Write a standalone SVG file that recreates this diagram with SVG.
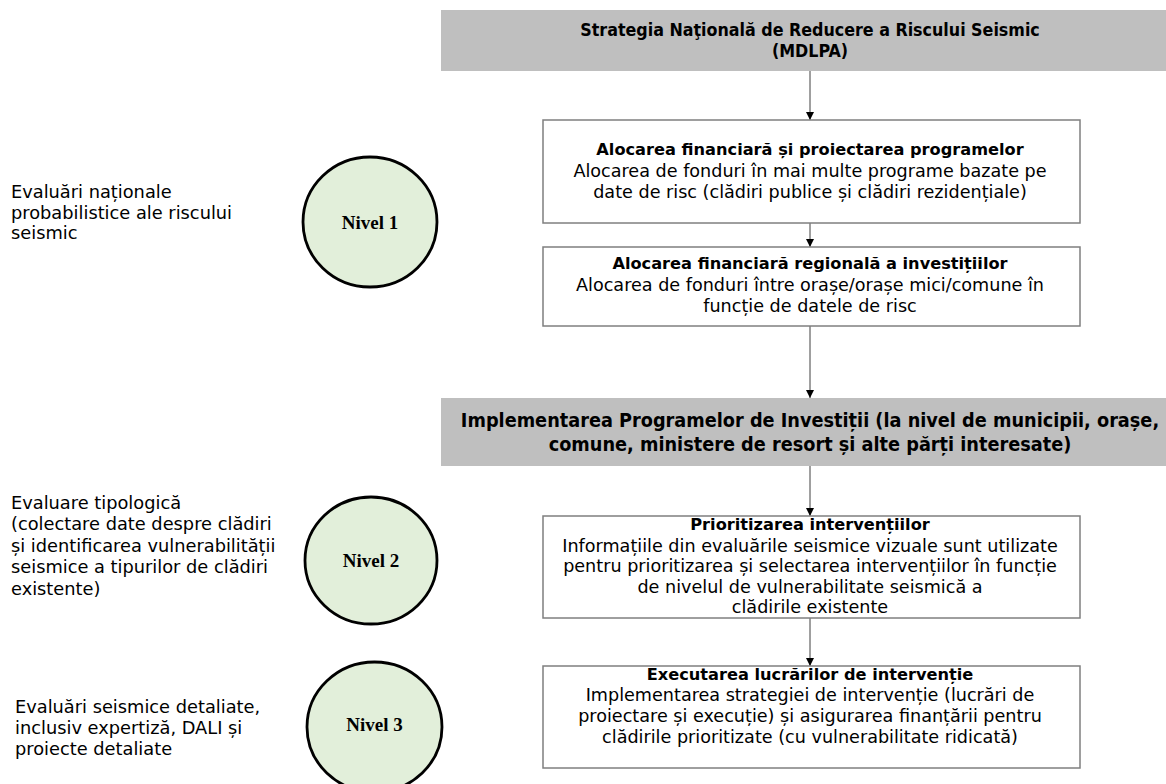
<svg xmlns="http://www.w3.org/2000/svg" width="1166" height="784" viewBox="0 0 1166 784">
  <style>
    .band { fill: #bfbfbf; }
    .box { fill: #ffffff; stroke: #7f7f7f; stroke-width: 1.5; }
    .lvl { fill: #e2efda; stroke: #000000; stroke-width: 2.8; }
    .head { font-family: "DejaVu Sans Condensed", "DejaVu Sans", sans-serif; font-weight: bold; fill: #000; text-anchor: middle; }
    .h1 { font-size: 17.7px; }
    .h2 { font-size: 19.7px; }
    .bt { font-family: "DejaVu Sans", sans-serif; font-weight: bold; font-size: 16.2px; fill: #000; text-anchor: middle; }
    .bd { font-family: "DejaVu Sans", sans-serif; font-size: 17.6px; fill: #000; text-anchor: middle; }
    .side { font-family: "DejaVu Sans", sans-serif; font-size: 17.8px; fill: #000; }
    .nv { font-family: "Liberation Serif", serif; font-weight: bold; font-size: 19px; fill: #000; text-anchor: middle; }
    .conn { stroke: #404040; stroke-width: 1; fill: none; marker-end: url(#ah); }
  </style>
  <defs>
    <marker id="ah" viewBox="0 0 10 10" refX="10" refY="5" markerWidth="8" markerHeight="8" markerUnits="userSpaceOnUse" orient="auto">
      <path d="M0,0 L10,5 L0,10 z" fill="#000"/>
    </marker>
  </defs>
  <rect width="1166" height="784" fill="#ffffff"/>

  <!-- vertical flow arrows between the stages -->
  <g id="connectors">
    <line class="conn" x1="810" y1="71" x2="810" y2="120"/>
    <line class="conn" x1="810" y1="223" x2="810" y2="247"/>
    <line class="conn" x1="810" y1="326" x2="810" y2="398"/>
    <line class="conn" x1="810" y1="466" x2="810" y2="516"/>
    <line class="conn" x1="810" y1="618" x2="810" y2="666"/>
  </g>

  <g id="strategie">
    <rect class="band" x="441" y="10" width="725" height="61"/>
    <text class="head h1" x="810" y="36">Strategia Naţională de Reducere a Riscului Seismic</text>
    <text class="head h1" x="810" y="57">(MDLPA)</text>
  </g>

  <g id="alocare-programe">
    <rect class="box" x="543" y="120" width="537" height="103"/>
    <text class="bt" x="810" y="155">Alocarea financiară și proiectarea programelor</text>
    <text class="bd" x="810" y="176.5">Alocarea de fonduri în mai multe programe bazate pe</text>
    <text class="bd" x="810" y="198">date de risc (clădiri publice și clădiri rezidențiale)</text>
  </g>

  <g id="alocare-regionala">
    <rect class="box" x="543" y="247" width="537" height="79"/>
    <text class="bt" x="810" y="269">Alocarea financiară regională a investițiilor</text>
    <text class="bd" x="810" y="290.5">Alocarea de fonduri între orașe/orașe mici/comune în</text>
    <text class="bd" x="810" y="312">funcție de datele de risc</text>
  </g>

  <g id="implementare">
    <rect class="band" x="441" y="398" width="725" height="68"/>
    <text class="head h2" x="810" y="427">Implementarea Programelor de Investiții (la nivel de municipii, orașe,</text>
    <text class="head h2" x="810" y="451">comune, ministere de resort și alte părți interesate)</text>
  </g>

  <g id="prioritizare">
    <rect class="box" x="543" y="516" width="537" height="102"/>
    <text class="bt" x="810" y="530">Prioritizarea intervențiilor</text>
    <text class="bd" x="810" y="551.5">Informațiile din evaluările seismice vizuale sunt utilizate</text>
    <text class="bd" x="810" y="572">pentru prioritizarea și selectarea intervențiilor în funcție</text>
    <text class="bd" x="810" y="592.5">de nivelul de vulnerabilitate seismică a</text>
    <text class="bd" x="810" y="613">clădirile existente</text>
  </g>

  <g id="executare">
    <rect class="box" x="543" y="666" width="537" height="102"/>
    <text class="bt" x="810" y="680">Executarea lucrărilor de intervenție</text>
    <text class="bd" x="810" y="701">Implementarea strategiei de intervenție (lucrări de</text>
    <text class="bd" x="810" y="722">proiectare și execuție) și asigurarea finanțării pentru</text>
    <text class="bd" x="810" y="743">clădirile prioritizate (cu vulnerabilitate ridicată)</text>
  </g>

  <g id="nivel-1">
    <ellipse class="lvl" cx="370" cy="222" rx="67" ry="65"/>
    <text class="nv" x="370" y="229">Nivel 1</text>
  </g>
  <g id="nivel-2">
    <ellipse class="lvl" cx="371" cy="560.5" rx="66" ry="63.5"/>
    <text class="nv" x="371" y="567">Nivel 2</text>
  </g>
  <g id="nivel-3">
    <ellipse class="lvl" cx="374.5" cy="727" rx="67.5" ry="65"/>
    <text class="nv" x="374.5" y="731">Nivel 3</text>
  </g>

  <g id="evaluari-nationale">
    <text class="side" x="11" y="198">Evaluări naționale</text>
    <text class="side" x="11" y="218.5">probabilistice ale riscului</text>
    <text class="side" x="11" y="239">seismic</text>
  </g>
  <g id="evaluare-tipologica">
    <text class="side" x="11" y="509">Evaluare tipologică</text>
    <text class="side" x="11" y="530">(colectare date despre clădiri</text>
    <text class="side" x="11" y="551.5">și identificarea vulnerabilității</text>
    <text class="side" x="11" y="573">seismice a tipurilor de clădiri</text>
    <text class="side" x="11" y="595">existente)</text>
  </g>
  <g id="evaluari-detaliate">
    <text class="side" x="15" y="713">Evaluări seismice detaliate,</text>
    <text class="side" x="15" y="734">inclusiv expertiză, DALI și</text>
    <text class="side" x="15" y="755">proiecte detaliate</text>
  </g>
</svg>
